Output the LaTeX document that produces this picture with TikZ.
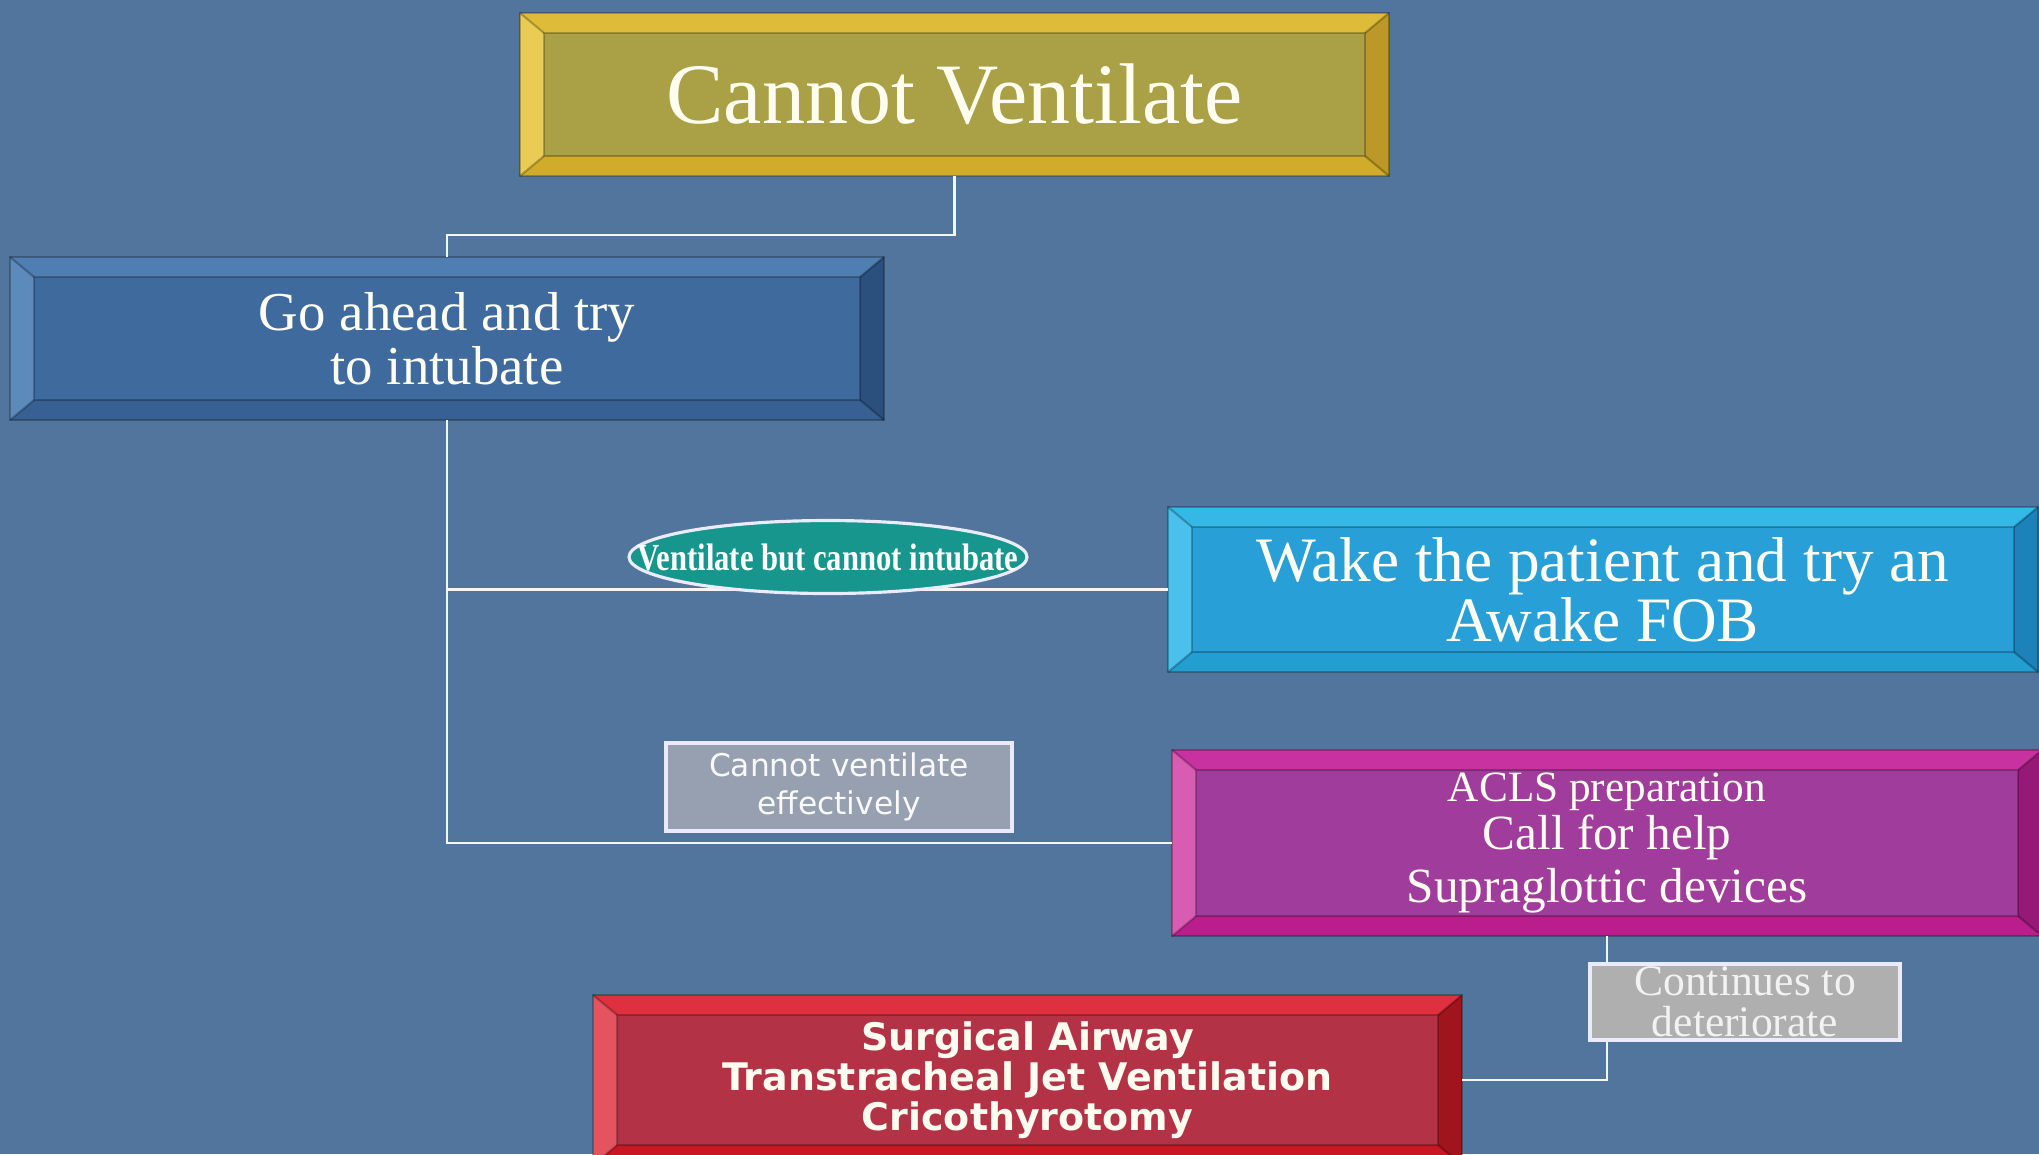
\documentclass[tikz,border=0pt]{standalone}
\usepackage{fontspec}
\setmainfont{Liberation Serif}
\newfontfamily\sansfont{DejaVu Sans}
\newfontfamily\narrowserif[FakeStretch=0.8]{Liberation Serif}
\usetikzlibrary{shapes.geometric,calc}

\definecolor{bgblue}{RGB}{82,117,157}
\definecolor{cream}{RGB}{255,253,240}
\definecolor{goldM}{RGB}{170,160,70}
\definecolor{goldT}{RGB}{222,188,58}
\definecolor{goldL}{RGB}{234,204,84}
\definecolor{goldB}{RGB}{208,172,42}
\definecolor{goldR}{RGB}{188,152,40}
\definecolor{blueM}{RGB}{62,106,158}
\definecolor{blueT}{RGB}{78,126,178}
\definecolor{blueL}{RGB}{92,138,186}
\definecolor{blueB}{RGB}{56,96,146}
\definecolor{blueR}{RGB}{44,80,126}
\definecolor{cyanM}{RGB}{40,160,215}
\definecolor{cyanT}{RGB}{52,185,230}
\definecolor{cyanL}{RGB}{74,192,236}
\definecolor{cyanB}{RGB}{34,158,208}
\definecolor{cyanR}{RGB}{28,130,185}
\definecolor{magM}{RGB}{160,60,155}
\definecolor{magT}{RGB}{200,50,160}
\definecolor{magL}{RGB}{216,92,178}
\definecolor{magB}{RGB}{185,30,140}
\definecolor{magR}{RGB}{150,25,120}
\definecolor{redM}{RGB}{180,50,70}
\definecolor{redT}{RGB}{222,48,62}
\definecolor{redL}{RGB}{228,84,96}
\definecolor{redB}{RGB}{200,22,34}
\definecolor{redR}{RGB}{160,20,30}
\definecolor{tealfill}{RGB}{22,150,140}
\definecolor{slate}{RGB}{150,160,176}
\definecolor{greybox}{RGB}{175,175,175}

\tikzset{
  bevbox/.style={rectangle, outer sep=0pt, inner sep=0pt, text=cream, align=center},
  edge/.style={draw=black, draw opacity=0.25, line width=0.6pt},
  conn/.style={draw=white!92!gray, line width=0.8pt},
  tag/.style={rectangle, draw=white!92!blue, line width=0.9pt, inner sep=0pt, align=center}
}

% bevelled frame round a named node: #1 node, #2 colour prefix
\newcommand{\bevel}[2]{%
  \fill[#2T] (#1.north west) -- (#1.north east) -- ($(#1.north east)+(-0.24,-0.2)$) -- ($(#1.north west)+(0.24,-0.2)$) -- cycle;
  \fill[#2B] (#1.south west) -- (#1.south east) -- ($(#1.south east)+(-0.24,0.2)$) -- ($(#1.south west)+(0.24,0.2)$) -- cycle;
  \fill[#2L] (#1.north west) -- ($(#1.north west)+(0.24,-0.2)$) -- ($(#1.south west)+(0.24,0.2)$) -- (#1.south west) -- cycle;
  \fill[#2R] (#1.north east) -- ($(#1.north east)+(-0.24,-0.2)$) -- ($(#1.south east)+(-0.24,0.2)$) -- (#1.south east) -- cycle;
  \draw[edge] (#1.north west) rectangle (#1.south east);
  \draw[edge] ($(#1.north west)+(0.24,-0.2)$) rectangle ($(#1.south east)+(-0.24,0.2)$);
  \draw[edge] (#1.north west) -- ++(0.24,-0.2) (#1.north east) -- ++(-0.24,-0.2)
              (#1.south west) -- ++(0.24,0.2) (#1.south east) -- ++(-0.24,0.2);
}

\begin{document}
\begin{tikzpicture}
\useasboundingbox (0,0) rectangle (20.39,-11.54);
\clip (0,0) rectangle (20.39,-11.54);
\fill[bgblue] (0,0) rectangle (20.39,-11.54);

% boxes
\node[bevbox, fill=goldM, minimum width=8.69cm, minimum height=1.63cm,
      font=\fontsize{24.5}{26}\selectfont] (cv) at (9.545,-0.945) {Cannot Ventilate};
\node[bevbox, fill=blueM, minimum width=8.74cm, minimum height=1.63cm,
      font=\fontsize{15.6}{15.5}\selectfont] (ga) at (4.47,-3.385) {Go ahead and try\\to intubate};
\node[bevbox, fill=cyanM, minimum width=8.70cm, minimum height=1.65cm,
      font=\fontsize{18}{17}\selectfont] (wake) at (16.03,-5.895) {Wake the patient and try an\\Awake FOB};
\node[bevbox, fill=magM, minimum width=8.70cm, minimum height=1.86cm,
      font=\fontsize{14}{12}\selectfont] (acls) at (16.07,-8.43)
      {{\fontsize{12.3}{12}\selectfont ACLS preparation}\\Call for help\\[1.5pt]Supraglottic devices};
\node[bevbox, fill=redM, minimum width=8.69cm, minimum height=1.70cm,
      font=\sansfont\bfseries\fontsize{10.8}{11.4}\selectfont] (surg) at (10.275,-10.80)
      {Surgical Airway\\Transtracheal Jet Ventilation\\Cricothyrotomy};

\bevel{cv}{gold}
\bevel{ga}{blue}
\bevel{wake}{cyan}
\bevel{acls}{mag}
\bevel{surg}{red}

% connectors
\draw[conn] (cv.south) -- ++(0,-0.59) -| (ga.north);
\draw[conn] (ga.south) |- (acls.west);
\draw[conn] (ga.south |- wake.west) -- (wake.west);
\draw[conn] (acls.south) |- (surg.east);

% labels on the connectors
\node[ellipse, fill=tealfill, draw=white!92!blue, line width=0.9pt, inner sep=0pt,
      minimum width=3.98cm, minimum height=0.73cm, text=white,
      font=\narrowserif\bfseries\fontsize{10.9}{11}\selectfont] (vbci) at (8.28,-5.57)
      {\makebox[0pt]{Ventilate but cannot intubate}};
\node[tag, fill=slate, minimum width=3.46cm, minimum height=0.88cm, text=white!95!gray,
      font=\sansfont\fontsize{8.9}{10.7}\selectfont] (cve) at (8.39,-7.87)
      {Cannot ventilate\\effectively};
\node[tag, fill=greybox, minimum width=3.10cm, minimum height=0.76cm, text=white!90!gray,
      font=\fontsize{12.4}{11.8}\selectfont] (cont) at (17.45,-10.02)
      {Continues to\\deteriorate};
\end{tikzpicture}
\end{document}
